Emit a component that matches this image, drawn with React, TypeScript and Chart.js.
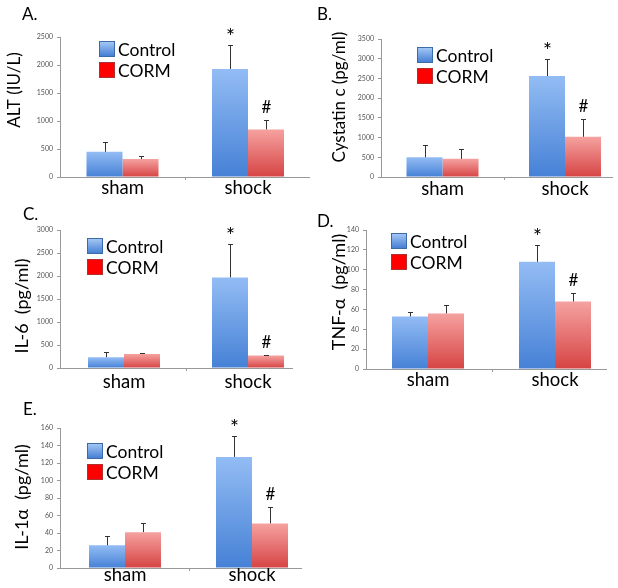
import React, { useEffect, useRef } from 'react';
import { Chart, registerables } from 'chart.js';
Chart.register(...registerables);

// ---- data ----
const groups = ['sham', 'shock'];
const seriesNames = ['Control', 'CORM'];

const altControl = [450, 1930];
const altControlErr = [170, 430];
const altCorm = [320, 850];
const altCormErr = [50, 170];
const altTicks = [0, 500, 1000, 1500, 2000, 2500];

const cysControl = [500, 2560];
const cysControlErr = [300, 440];
const cysCorm = [460, 1020];
const cysCormErr = [240, 460];
const cysTicks = [0, 500, 1000, 1500, 2000, 2500, 3000, 3500];

const il6Control = [235, 1970];
const il6ControlErr = [110, 720];
const il6Corm = [305, 270];
const il6CormErr = [15, 10];
const il6Ticks = [0, 500, 1000, 1500, 2000, 2500, 3000];

const tnfControl = [53, 108];
const tnfControlErr = [4, 17];
const tnfCorm = [56, 68];
const tnfCormErr = [8, 9];
const tnfTicks = [0, 20, 40, 60, 80, 100, 120, 140];

const il1Control = [26, 127];
const il1ControlErr = [11, 24];
const il1Corm = [41, 51];
const il1CormErr = [10, 19];
const il1Ticks = [0, 20, 40, 60, 80, 100, 120, 140, 160];

const marks = ['*', '#']; // shock: Control *, CORM #

type Panel = {
  letter: string;
  yTitle: string;
  control: number[];
  controlErr: number[];
  corm: number[];
  cormErr: number[];
  ticks: number[];
  box: { left: number; top: number; width: number; height: number };
  area: { l: number; r: number; t: number; b: number };
  center0: number;
  unit: number;
  letterPos: [number, number];
  titlePos: [number, number];
  titleSize: number;
  legendPos: [number, number];
  labelPad: number;
};

const panels: Panel[] = [
  {
    letter: 'A.', yTitle: 'ALT (IU/L)', control: altControl, controlErr: altControlErr,
    corm: altCorm, cormErr: altCormErr, ticks: altTicks,
    box: { left: 0, top: 0, width: 310, height: 200 },
    area: { l: 60, r: 310, t: 37, b: 177 }, center0: 122.5, unit: 125.5,
    letterPos: [22, 20], titlePos: [15, 90], titleSize: 17, legendPos: [99, 41], labelPad: 0,
  },
  {
    letter: 'B.', yTitle: 'Cystatin c (pg/ml)', control: cysControl, controlErr: cysControlErr,
    corm: cysCorm, cormErr: cysCormErr, ticks: cysTicks,
    box: { left: 305, top: 0, width: 308, height: 200 },
    area: { l: 381, r: 613, t: 39, b: 177 }, center0: 442.5, unit: 122.5,
    letterPos: [317, 20], titlePos: [340, 97], titleSize: 17, legendPos: [417, 47], labelPad: 1,
  },
  {
    letter: 'C.', yTitle: 'IL-6  (pg/ml)', control: il6Control, controlErr: il6ControlErr,
    corm: il6Corm, cormErr: il6CormErr, ticks: il6Ticks,
    box: { left: 0, top: 197, width: 293, height: 200 },
    area: { l: 60, r: 293, t: 230, b: 368 }, center0: 124, unit: 124,
    letterPos: [23, 220], titlePos: [22, 306], titleSize: 18, legendPos: [87, 238], labelPad: 3,
  },
  {
    letter: 'D.', yTitle: 'TNF-\u03b1  (pg/ml)', control: tnfControl, controlErr: tnfControlErr,
    corm: tnfCorm, cormErr: tnfCormErr, ticks: tnfTicks,
    box: { left: 305, top: 197, width: 302, height: 200 },
    area: { l: 366, r: 607, t: 230, b: 369 }, center0: 428, unit: 127,
    letterPos: [317, 227], titlePos: [339, 292], titleSize: 18, legendPos: [391, 233], labelPad: 0,
  },
  {
    letter: 'E.', yTitle: 'IL-1\u03b1  (pg/ml)', control: il1Control, controlErr: il1ControlErr,
    corm: il1Corm, cormErr: il1CormErr, ticks: il1Ticks,
    box: { left: 0, top: 392, width: 302, height: 196 },
    area: { l: 60, r: 302, t: 428, b: 568 }, center0: 125, unit: 127,
    letterPos: [23, 415], titlePos: [22, 497], titleSize: 18, legendPos: [87, 443], labelPad: -4,
  },
];

const FONT = 'Lato, "Open Sans", sans-serif';

function barGradient(ctx: any, light: string, dark: string) {
  const chart = ctx.chart;
  if (ctx.type !== 'data' || !chart.chartArea || !chart.scales.y) return dark;
  const y = chart.scales.y;
  const v = ctx.parsed ? ctx.parsed.y : ctx.raw?.y;
  if (v == null) return dark;
  const top = y.getPixelForValue(v);
  const bot = y.getPixelForValue(0);
  const g = chart.ctx.createLinearGradient(0, top, 0, bot);
  g.addColorStop(0, light);
  g.addColorStop(1, dark);
  return g;
}

function PanelChart({ p }: { p: Panel }) {
  const ref = useRef<HTMLCanvasElement>(null);
  useEffect(() => {
    const canvas = ref.current!;
    const { box, area } = p;
    const xMin = -(p.center0 - area.l) / p.unit;
    const xMax = xMin + (area.r - area.l) / p.unit;
    const cp = 72 / p.unit;
    const yMax = p.ticks[p.ticks.length - 1];

    const overlay = {
      id: 'overlay',
      afterDatasetsDraw(chart: any) {
        const c = chart.ctx;
        const xs = chart.scales.x;
        const ys = chart.scales.y;
        const ox = box.left, oy = box.top;
        c.save();
        const sets = [
          { vals: p.control, errs: p.controlErr, meta: chart.getDatasetMeta(0) },
          { vals: p.corm, errs: p.cormErr, meta: chart.getDatasetMeta(1) },
        ];
        c.strokeStyle = '#333';
        c.lineWidth = 1;
        sets.forEach((s, si) => {
          s.vals.forEach((v, i) => {
            const el = s.meta.data[i];
            const x = Math.round(el.x) + 0.5;
            const y0 = ys.getPixelForValue(v);
            const y1 = Math.round(ys.getPixelForValue(v + s.errs[i])) + 0.5;
            c.beginPath();
            c.moveTo(x, y0);
            c.lineTo(x, y1);
            c.moveTo(x - 2.5, y1);
            c.lineTo(x + 2.5, y1);
            c.stroke();
            if (i === 1) {
              c.fillStyle = '#000';
              const m = marks[si];
              c.font = `${m === '*' ? 21 : 17}px ${FONT}`;
              c.textAlign = 'center';
              c.textBaseline = 'middle';
              c.fillText(m, x, y1 - (m === '*' ? 8 : 13));
            }
          });
        });
        // mid tick on x axis
        const xm = Math.round(xs.getPixelForValue(0.5)) + 0.5;
        c.strokeStyle = '#999';
        c.beginPath();
        c.moveTo(xm, area.b - oy);
        c.lineTo(xm, area.b - oy + 3);
        c.stroke();
        // panel letter
        c.fillStyle = '#000';
        c.textAlign = 'left';
        c.textBaseline = 'alphabetic';
        c.font = `17px ${FONT}`;
        c.fillText(p.letter, p.letterPos[0] - ox, p.letterPos[1] - oy);
        // y title
        c.save();
        c.translate(p.titlePos[0] - ox, p.titlePos[1] - oy);
        c.rotate(-Math.PI / 2);
        c.textAlign = 'center';
        c.textBaseline = 'middle';
        c.font = `${p.titleSize}px ${FONT}`;
        c.fillText(p.yTitle, 0, 0);
        c.restore();
        // legend
        const lx = p.legendPos[0] - ox, ly = p.legendPos[1] - oy;
        const sq = 16;
        const g = c.createLinearGradient(0, ly, 0, ly + sq);
        g.addColorStop(0, '#a9cbf7');
        g.addColorStop(1, '#3f7bd2');
        c.fillStyle = g;
        c.fillRect(lx, ly, sq, sq);
        c.strokeStyle = '#3d6aa8';
        c.strokeRect(lx + 0.5, ly + 0.5, sq - 1, sq - 1);
        c.fillStyle = '#ff0000';
        c.fillRect(lx, ly + 21, sq, sq);
        c.strokeStyle = '#b03030';
        c.strokeRect(lx + 0.5, ly + 21.5, sq - 1, sq - 1);
        c.fillStyle = '#000';
        c.font = `17.5px ${FONT}`;
        c.textAlign = 'left';
        c.textBaseline = 'middle';
        c.fillText(seriesNames[0], lx + sq + 3, ly + sq / 2 + 1);
        c.fillText(seriesNames[1], lx + sq + 3, ly + 21 + sq / 2 + 1);
        c.restore();
      },
    };

    const chart = new Chart(canvas, {
      type: 'bar',
      data: {
        datasets: [
          {
            label: seriesNames[0],
            data: p.control.map((v, i) => ({ x: i, y: v })),
            backgroundColor: (ctx: any) => barGradient(ctx, '#93bcf4', '#4681d6'),
            categoryPercentage: cp,
            barPercentage: 1,
            borderWidth: 0,
          },
          {
            label: seriesNames[1],
            data: p.corm.map((v, i) => ({ x: i, y: v })),
            backgroundColor: (ctx: any) => barGradient(ctx, '#f5a2a0', '#d64444'),
            categoryPercentage: cp,
            barPercentage: 1,
            borderWidth: 0,
          },
        ],
      },
      options: {
        responsive: false,
        animation: false,
        devicePixelRatio: 1,
        layout: {
          padding: {
            top: area.t - box.top,
            right: box.left + box.width - area.r,
            left: 0,
            bottom: 0,
          },
        },
        plugins: { legend: { display: false }, tooltip: { enabled: false } },
        scales: {
          x: {
            type: 'linear',
            offset: false,
            min: xMin,
            max: xMax,
            afterBuildTicks: (s: any) => {
              s.ticks = groups.map((_, i) => ({ value: i }));
            },
            afterFit: (s: any) => {
              s.height = box.top + box.height - area.b;
            },
            grid: { display: false, drawTicks: false, offset: false },
            border: { display: true, color: '#999', width: 1 },
            ticks: {
              autoSkip: false,
              maxRotation: 0,
              padding: p.labelPad,
              color: '#000',
              font: { family: FONT, size: 18.5 },
              callback: (v: any) => groups[Math.round(Number(v))] ?? '',
            },
          },
          y: {
            min: 0,
            max: yMax,
            afterBuildTicks: (s: any) => {
              s.ticks = p.ticks.map((v) => ({ value: v }));
            },
            afterFit: (s: any) => {
              s.width = area.l - box.left;
            },
            grid: { display: true, drawOnChartArea: false, drawTicks: true, tickLength: 3, color: '#999' },
            border: { display: true, color: '#999', width: 1 },
            ticks: {
              padding: 4,
              color: '#555',
              font: { family: FONT, size: 7 },
              callback: (v: any) => String(v),
            },
          },
        },
      },
      plugins: [overlay],
    } as any);
    return () => chart.destroy();
  }, [p]);
  return (
    <canvas
      ref={ref}
      width={p.box.width}
      height={p.box.height}
      style={{
        position: 'absolute',
        left: p.box.left,
        top: p.box.top,
        width: p.box.width,
        height: p.box.height,
      }}
    />
  );
}

export default function App() {
  return (
    <div style={{ position: 'absolute', left: 0, top: 0, width: 618, height: 588, background: '#fff' }}>
      {panels.map((p) => (
        <PanelChart key={p.letter} p={p} />
      ))}
    </div>
  );
}
